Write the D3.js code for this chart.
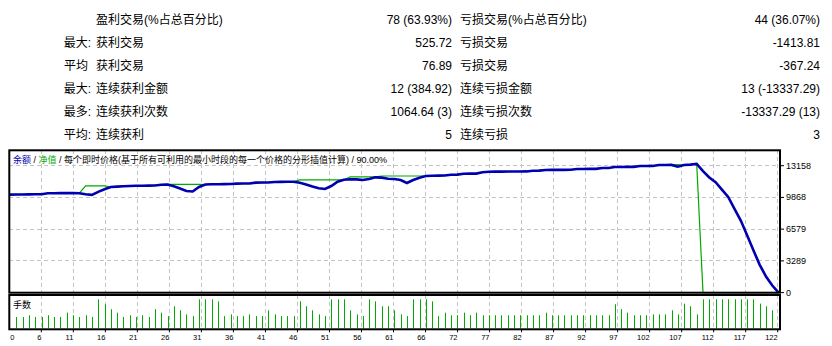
<!DOCTYPE html>
<html>
<head>
<meta charset="utf-8">
<script src="https://cdnjs.cloudflare.com/ajax/libs/d3/7.8.5/d3.min.js"></script>
<style>
  body { margin: 0; background: #fff; }
  text { font-family: 'Liberation Sans', 'Noto Sans CJK SC', sans-serif; fill: #000; }
</style>
</head>
<body>
<svg id="chart"></svg>
<script>
const rowPrefixes = ['', '最大:', '平均', '最大:', '最多:', '平均:'];
const leftLabels = ['盈利交易(%占总百分比)', '获利交易', '获利交易', '连续获利金额', '连续获利次数', '连续获利'];
const leftValues = ['78 (63.93%)', '525.72', '76.89', '12 (384.92)', '1064.64 (3)', '5'];
const rightLabels = ['亏损交易(%占总百分比)', '亏损交易', '亏损交易', '连续亏损金额', '连续亏损次数', '连续亏损'];
const rightValues = ['44 (36.07%)', '-1413.81', '-367.24', '13 (-13337.29)', '-13337.29 (13)', '3'];

// balance after each trade, trade 0 = start
const balance = [
  10160, 10165, 10175, 10180, 10190, 10200, 10300, 10305, 10310, 10315,
  10320, 10300, 10190, 10130, 10450, 10720, 10950, 10990, 11030, 11060,
  11075, 11085, 11095, 11110, 11190, 11200, 11020, 10800, 10540, 10480,
  10950, 11210, 11230, 11240, 11250, 11260, 11300, 11310, 11320, 11400,
  11410, 11420, 11470, 11480, 11490, 11500, 11390, 11210, 11000, 10815,
  10745, 11050, 11500, 11700, 11750, 11740, 11680, 11780, 11950, 11920,
  11810, 11780, 11680, 11370, 11680, 11910, 12090, 12120, 12130, 12140,
  12225, 12230, 12330, 12335, 12340, 12475, 12535, 12540, 12545, 12550,
  12555, 12560, 12565, 12640, 12645, 12715, 12720, 12725, 12730, 12740,
  12815, 12820, 12825, 12830, 12920, 12925, 13025, 13030, 13035, 13040,
  13125, 13130, 13135, 13230, 13235, 13240, 13055, 13230, 13270, 13336,
  12590, 11936, 11449, 10680, 9914, 8680, 7475, 5952, 4390, 2880,
  1670, 736, 0
];
const equity = [
  10160, 10165, 10175, 10180, 10190, 10200, 10300, 10305, 10310, 10315,
  10320, 10300, 11060, 11060, 11060, 11060, 10950, 10990, 11030, 11060,
  11075, 11085, 11095, 11110, 11190, 11230, 11230, 11230, 11230, 11230,
  11230, 11210, 11230, 11240, 11250, 11260, 11300, 11310, 11320, 11400,
  11410, 11420, 11470, 11480, 11490, 11500, 11680, 11680, 11680, 11680,
  11680, 11680, 11680, 11680, 11990, 11990, 11990, 11990, 11990, 12090,
  12090, 12090, 12090, 12090, 12090, 12090, 12090, 12120, 12130, 12140,
  12225, 12230, 12330, 12335, 12340, 12475, 12535, 12540, 12545, 12550,
  12555, 12560, 12565, 12640, 12645, 12715, 12720, 12725, 12730, 12740,
  12815, 12820, 12825, 12830, 12920, 12925, 13025, 13030, 13035, 13040,
  13125, 13130, 13135, 13230, 13235, 13240, 13260, 13230, 13270, 13336,
  0, 0, 0, 0, 0, 0, 0, 0, 0, 0,
  0, 0, 0
];
// lots of trades 1..122
const lots = [
  0.39, 0.39, 0.45, 0.39, 0.39, 0.45, 0.39, 0.39, 0.54, 0.45,
  0.39, 0.45, 0.39, 1.00, 0.83, 0.66, 0.54, 0.39, 0.45, 0.39,
  0.45, 0.39, 0.66, 0.54, 0.42, 0.76, 0.62, 0.48, 0.42, 1.00,
  1.00, 1.00, 0.93, 0.42, 0.48, 0.42, 0.42, 0.48, 0.42, 0.42,
  0.62, 0.48, 0.42, 0.42, 0.42, 0.93, 0.76, 0.62, 0.48, 0.42,
  1.00, 1.00, 1.00, 0.62, 0.48, 0.42, 1.00, 0.93, 0.76, 0.76,
  0.62, 0.48, 0.42, 1.00, 1.00, 1.00, 0.93, 0.42, 0.54, 0.45,
  0.45, 0.54, 0.45, 0.54, 0.45, 0.45, 0.45, 0.45, 0.45, 0.45,
  0.45, 0.45, 0.45, 0.45, 0.54, 0.45, 0.45, 0.45, 0.45, 0.45,
  0.45, 0.45, 0.45, 0.45, 0.45, 0.83, 0.66, 0.54, 0.45, 0.45,
  0.45, 0.48, 0.48, 0.48, 0.62, 0.48, 0.85, 0.76, 0.48, 1.00,
  1.00, 1.00, 1.00, 1.00, 1.00, 1.00, 1.00, 1.00, 0.85, 0.76,
  0.62, 0.48
];
const xTickLabels = [0, 6, 11, 16, 21, 26, 31, 36, 41, 46, 51, 56, 61, 66, 72, 77, 82, 87, 92, 97, 102, 107, 112, 117, 122];
const yTicks = [0, 3289, 6579, 9868, 13158];

const width = 832, height = 346;
const blue = '#0000b0', green = '#00aa00', gridColor = '#c4c4c4';
const plotLeft = 9.3, plotRight = 780, plotTop = 150.3, plotBottom = 292.7;
const volTop = 295, volBottom = 329.3;

let svg = d3.select('#chart').attr('width', width).attr('height', height);

// statistics table
let rowY = (d, i) => 20 + i * 23;
let table = svg.append('g').style('font-size', '12px');
table.selectAll('.pre').data(rowPrefixes).enter().append('text')
  .attr('x', d => (d.endsWith(':') ? 91 : 88)).attr('y', rowY)
  .attr('text-anchor', 'end').attr('dominant-baseline', 'central').text(d => d);
table.selectAll('.ll').data(leftLabels).enter().append('text')
  .attr('x', 96).attr('y', rowY).attr('dominant-baseline', 'central').text(d => d);
table.selectAll('.lv').data(leftValues).enter().append('text')
  .attr('x', 452).attr('y', rowY).attr('text-anchor', 'end').attr('dominant-baseline', 'central').text(d => d);
table.selectAll('.rl').data(rightLabels).enter().append('text')
  .attr('x', 460).attr('y', rowY).attr('dominant-baseline', 'central').text(d => d);
table.selectAll('.rv').data(rightValues).enter().append('text')
  .attr('x', 820).attr('y', rowY).attr('text-anchor', 'end').attr('dominant-baseline', 'central').text(d => d);

let x = d3.scaleLinear().domain([0, 122]).range([10, 778.6]);
let y = d3.scaleLinear().domain([0, 13158]).range([292.6, 165.7]);
let xGrid = d3.scalePoint().domain(xTickLabels).range([plotLeft, 777.7]);
let v = d3.scaleLinear().domain([0, 1]).range([328.3, 299.3]);

// grid
let g = svg.append('g').attr('stroke', gridColor).attr('stroke-dasharray', '4,3').attr('shape-rendering', 'crispEdges');
g.selectAll('.vg').data(xTickLabels.slice(1)).enter().append('line')
  .attr('x1', d => xGrid(d)).attr('x2', d => xGrid(d)).attr('y1', plotTop).attr('y2', plotBottom);
g.selectAll('.vg2').data(xTickLabels.slice(1)).enter().append('line')
  .attr('x1', d => xGrid(d)).attr('x2', d => xGrid(d)).attr('y1', volTop).attr('y2', volBottom);
g.selectAll('.hg').data(yTicks.slice(1)).enter().append('line')
  .attr('x1', plotLeft).attr('x2', plotRight).attr('y1', d => y(d)).attr('y2', d => y(d));

// equity & balance
let line = d3.line().x((d, i) => x(i)).y(d => y(d));
svg.append('path').datum(equity).attr('d', line).attr('fill', 'none').attr('stroke', green).attr('stroke-width', 1.2);
svg.append('path').datum(balance).attr('d', line).attr('fill', 'none').attr('stroke', blue).attr('stroke-width', 2.6);

// lots
svg.append('g').selectAll('line').data(lots).enter().append('line')
  .attr('x1', (d, i) => Math.round(x(i + 1)) + 0.5).attr('x2', (d, i) => Math.round(x(i + 1)) + 0.5)
  .attr('y1', v(0)).attr('y2', d => v(d))
  .attr('stroke', green).attr('stroke-width', 1);

// frames
svg.append('rect').attr('x', plotLeft).attr('y', plotTop).attr('width', plotRight - plotLeft).attr('height', plotBottom - plotTop)
  .attr('fill', 'none').attr('stroke', '#000').attr('stroke-width', 2);
svg.append('rect').attr('x', plotLeft).attr('y', volTop).attr('width', plotRight - plotLeft).attr('height', volBottom - volTop)
  .attr('fill', 'none').attr('stroke', '#000').attr('stroke-width', 2);

// y axis
svg.append('g').selectAll('line').data(yTicks).enter().append('line')
  .attr('x1', plotRight).attr('x2', plotRight + 4).attr('y1', d => y(d)).attr('y2', d => y(d)).attr('stroke', '#000');
svg.append('g').style('font-size', '9px').selectAll('text').data(yTicks).enter().append('text')
  .attr('x', 786).attr('y', d => y(d)).attr('dominant-baseline', 'central').text(d => d);

// x axis
svg.append('g').selectAll('line').data(xTickLabels.slice(1)).enter().append('line')
  .attr('x1', d => xGrid(d)).attr('x2', d => xGrid(d)).attr('y1', volBottom).attr('y2', volBottom + 3).attr('stroke', '#000');
svg.append('g').style('font-size', '7.5px').selectAll('text').data(xTickLabels).enter().append('text')
  .attr('x', (d, i) => (i === 0 ? xGrid(d) + 1 : xGrid(d)))
  .attr('y', 337).attr('dominant-baseline', 'central')
  .attr('text-anchor', (d, i) => (i === 0 ? 'start' : 'end')).text(d => d);

// captions
let cap = svg.append('text').attr('x', 13).attr('y', 159.5).attr('dominant-baseline', 'central').style('font-size', '9px');
[['余额', blue], [' / ', '#000'], ['净值', green], [' / 每个即时价格(基于所有可利用的最小时段的每一个价格的分形插值计算) / 90.00%', '#000']]
  .forEach(p => cap.append('tspan').style('fill', p[1]).text(p[0]));
svg.append('text').attr('x', 13).attr('y', 305).attr('dominant-baseline', 'central').style('font-size', '9px').text('手数');
</script>
</body>
</html>
